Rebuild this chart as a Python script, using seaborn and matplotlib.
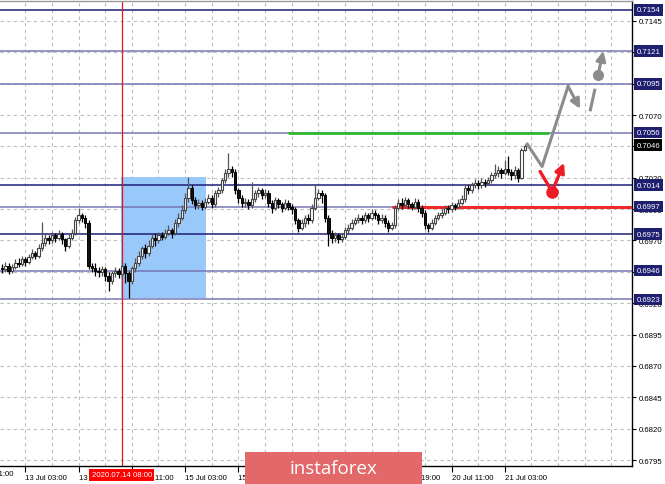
import matplotlib
matplotlib.use('Agg')
import matplotlib.pyplot as plt
import matplotlib.transforms as mtransforms
from matplotlib.patches import Rectangle, FancyBboxPatch
import numpy as np
import pandas as pd
import seaborn as sns

# H1 candles, prices in pips above 0.6900; first bar index 9 (bar 16 = 13 Jul 03:00)
first_bar = 9
first_open = 48
close_pips = [47, 50, 46, 49, 52, 51, 55, 53, 57, 60, 58, 64, 68, 72, 70, 74, 72, 75, 71, 66,
              72, 76, 86, 90, 88, 84, 50, 48, 46, 45, 47, 42, 38, 44, 46, 43, 50, 44, 38, 48,
              52, 58, 64, 60, 66, 72, 70, 74, 73, 76, 78, 76, 84, 88, 94, 104, 112, 102, 98, 100,
              97, 101, 104, 99, 108, 110, 118, 124, 127, 125, 110, 104, 100, 101, 98, 103, 108, 110, 106, 108,
              100, 96, 102, 99, 96, 100, 97, 95, 86, 80, 84, 88, 86, 96, 104, 108, 106, 88, 76, 72,
              74, 71, 73, 78, 80, 84, 86, 88, 86, 90, 88, 92, 90, 86, 88, 84, 80, 82, 96, 100,
              98, 102, 99, 97, 101, 96, 92, 82, 80, 84, 88, 90, 92, 96, 95, 98, 97, 100, 103, 112,
              110, 114, 116, 114, 117, 116, 118, 122, 124, 126, 124, 127, 125, 122, 126, 120, 142, 145]
high_pips = [51, 53, 52, 51, 55, 56, 58, 57, 59, 63, 62, 67, 85, 75, 74, 77, 76, 78, 77, 72,
             75, 79, 89, 96, 92, 90, 86, 52, 52, 49, 50, 49, 45, 46, 49, 48, 53, 52, 46, 50,
             56, 62, 66, 67, 70, 75, 76, 77, 77, 79, 82, 80, 87, 92, 98, 108, 121, 114, 105, 103,
             102, 104, 107, 106, 110, 113, 120, 127, 140, 129, 127, 112, 106, 104, 103, 117, 110, 113, 112, 111,
             110, 102, 105, 104, 101, 103, 102, 99, 97, 88, 87, 90, 91, 99, 115, 111, 110, 108, 90, 78,
             77, 76, 76, 81, 83, 87, 89, 91, 90, 93, 92, 95, 94, 92, 91, 90, 86, 85, 98, 103,
             104, 105, 104, 101, 104, 103, 98, 94, 84, 87, 90, 93, 95, 98, 98, 101, 100, 103, 106, 115,
             114, 117, 119, 118, 120, 119, 121, 125, 131, 129, 128, 134, 137, 127, 129, 128, 144, 147]
low_pips = [44, 45, 43, 44, 47, 49, 50, 50, 51, 55, 55, 56, 62, 66, 67, 68, 69, 70, 67, 62,
            64, 70, 74, 84, 85, 80, 47, 45, 42, 41, 42, 38, 30, 35, 41, 40, 41, 36, 24, 35,
            45, 50, 55, 56, 58, 64, 66, 68, 70, 71, 74, 72, 74, 81, 86, 92, 101, 99, 95, 95,
            94, 95, 99, 96, 97, 105, 108, 116, 121, 121, 107, 100, 97, 97, 95, 96, 101, 105, 103, 104,
            97, 92, 94, 96, 93, 94, 94, 91, 83, 77, 78, 81, 83, 84, 94, 102, 100, 85, 66, 68,
            69, 68, 69, 71, 76, 78, 82, 84, 83, 84, 85, 86, 87, 83, 84, 81, 77, 78, 80, 94,
            95, 96, 96, 94, 95, 93, 89, 79, 77, 78, 82, 86, 88, 90, 92, 93, 94, 95, 98, 101,
            107, 108, 112, 111, 112, 113, 114, 116, 120, 121, 120, 122, 122, 118, 119, 117, 119, 141]

# x axis labels (every 16 bars); the first one starts left of the visible range
first_label_bar = 0
first_label = '10 Jul 11:00'
tick_bars = [16, 32, 48, 64, 80, 96, 112, 128, 144, 160]
tick_labels = ['13 Jul 03:00', '13 Jul 19:00', '14 Jul 11:00', '15 Jul 03:00',
               '15 Jul 19:00', '16 Jul 11:00', '17 Jul 03:00', '17 Jul 19:00', '20 Jul 11:00',
               '21 Jul 03:00']
marker_bar = 45
marker_label = '2020.07.14 08:00'

# price grid and levels
grid_prices = [0.6795, 0.6820, 0.6845, 0.6870, 0.6895, 0.6920, 0.6945, 0.6970, 0.6995,
               0.7020, 0.7045, 0.7070, 0.7095, 0.7120, 0.7145]
level_prices = [0.7154, 0.7121, 0.7095, 0.7056, 0.7014, 0.6997, 0.6975, 0.6946, 0.6923]
level_dark = [True, False, False, False, True, False, True, False, False]
last_price = 0.7046

# zone and drawn lines
zone_bars = [44.7, 70.3]
zone_prices = [0.6924, 0.7021]
green_bars = [95.2, 173.0]
green_price = 0.7056
red_bars = [126.4, 199.0]
red_price = 0.6997

# forecast arrows
gray_path_bars = [166.7, 171.2, 179.0]
gray_path_prices = [0.7047, 0.7029, 0.7093]
gray_head_bar, gray_head_price = 182.6, 0.7075
gray_dash_bars = [185.6, 187.1]
gray_dash_prices = [0.7073, 0.7091]
gray_dot = (188.0, 0.7102)
gray_tip = (189.6, 0.7121)
red_path_bars = [170.6, 174.2]
red_path_prices = [0.7025, 0.7009]
red_tip = (177.8, 0.7032)

sns.set_theme(style='white')
plt.rcParams['font.family'] = ['Liberation Sans', 'DejaVu Sans']
FS = 5.6

df = pd.DataFrame({'close': close_pips, 'high': high_pips, 'low': low_pips})
df = 0.69 + df / 10000.0
df['bar'] = np.arange(first_bar, first_bar + len(df))
df['open'] = [0.69 + first_open / 10000.0] + list(df['close'][:-1])
up = df['close'] >= df['open']

fig = plt.figure(figsize=(6.65, 4.85), dpi=100)
ax = fig.add_axes([0, 18 / 485, 632 / 665, 465 / 485])

# grid
for p in grid_prices:
    ax.axhline(p, color='#bdbdbd', lw=0.8, ls=(0, (3, 3)), zorder=0)
for b in range(16, 199, 8):
    ax.axvline(b, color='#bdbdbd', lw=0.8, ls=(0, (3, 3)), zorder=0)

# blue zone
ax.add_patch(Rectangle((zone_bars[0], zone_prices[0]), zone_bars[1] - zone_bars[0],
                       zone_prices[1] - zone_prices[0], facecolor='#99c9fb', edgecolor='none', zorder=1))

# levels
for p, dark in zip(level_prices, level_dark):
    ax.axhline(p, color='#1e1e78' if dark else '#7878b4', lw=1.1, zorder=2)

ax.axvline(marker_bar, color='#e8141e', lw=0.9, zorder=2)

sns.lineplot(x=green_bars, y=[green_price, green_price], color='#2fb92f', lw=2, ax=ax, zorder=3)
sns.lineplot(x=red_bars, y=[red_price, red_price], color='#ef2a2a', lw=2.2, ax=ax, zorder=3)

# candles
ax.vlines(df['bar'], df['low'], df['high'], color=np.where(up, '#555555', '#000000'), lw=0.9, zorder=4)
body_lo = df[['open', 'close']].min(axis=1)
body_h = (df['close'] - df['open']).abs().clip(lower=0.00005)
ax.bar(df['bar'][up], body_h[up], bottom=body_lo[up], width=0.72, color='white',
       edgecolor='#444444', linewidth=0.8, zorder=5)
ax.bar(df['bar'][~up], body_h[~up], bottom=body_lo[~up], width=0.72, color='#111111',
       edgecolor='#000000', linewidth=0.7, zorder=5)

# forecast arrows
gray = '#8c8c8c'
sns.lineplot(x=gray_path_bars, y=gray_path_prices, sort=False, color=gray, lw=2.2, ax=ax, zorder=6)
ax.annotate('', xy=(gray_head_bar, gray_head_price), xytext=(gray_path_bars[-1], gray_path_prices[-1]),
            arrowprops=dict(arrowstyle='-|>', color=gray, lw=2.2, mutation_scale=14,
                            shrinkA=0, shrinkB=0), zorder=6)
ax.plot(gray_dash_bars, gray_dash_prices, color=gray, lw=2.2, zorder=6, solid_capstyle='butt')
ax.plot(*gray_dot, 'o', color=gray, ms=7, zorder=6)
ax.annotate('', xy=gray_tip, xytext=gray_dot,
            arrowprops=dict(arrowstyle='-|>', color=gray, lw=2.2, mutation_scale=14,
                            shrinkA=0, shrinkB=0), zorder=6)
red = '#ee1c25'
sns.lineplot(x=red_path_bars, y=red_path_prices, sort=False, color=red, lw=2.4, ax=ax, zorder=6)
ax.plot(red_path_bars[-1], red_path_prices[-1], 'o', color=red, ms=8, zorder=6)
ax.annotate('', xy=red_tip, xytext=(red_path_bars[-1], red_path_prices[-1]),
            arrowprops=dict(arrowstyle='-|>', color=red, lw=2.4, mutation_scale=14,
                            shrinkA=0, shrinkB=0), zorder=6)

# axes frame
ax.spines['left'].set_visible(False)
ax.spines['top'].set_color('#9a9a9a')
ax.spines['right'].set_color('#000000')
ax.spines['bottom'].set_color('#000000')
for s in ['top', 'right', 'bottom']:
    ax.spines[s].set_linewidth(1.0)

ax.yaxis.tick_right()
ax.set_yticks(grid_prices)
ax.set_yticklabels(['%.4f' % p for p in grid_prices])
ax.tick_params(axis='y', right=True, length=3, width=0.8, pad=2, labelsize=FS, colors='#000000')
ax.set_xticks(tick_bars)
ax.set_xticklabels(tick_labels, ha='left')
ax.tick_params(axis='x', bottom=True, length=4, width=0.8, pad=1.5, labelsize=FS, colors='#000000')

# limits last: drawing and set_*ticks may widen them
ax.set_xlim(8.4, 198.2)
ax.set_ylim(0.679022, 0.716094)

xtrans = mtransforms.blended_transform_factory(ax.transData, ax.transAxes)
ax.text(first_label_bar, -0.0085, first_label, transform=xtrans, fontsize=FS, color='#000000',
        va='top', ha='left', clip_on=False)

ytrans = mtransforms.blended_transform_factory(ax.transAxes, ax.transData)
for p in level_prices:
    ax.text(1.007, p, '%.4f' % p, transform=ytrans, fontsize=FS, color='white', va='center', ha='left',
            bbox=dict(boxstyle='square,pad=0.3', fc='#1f1f70', ec='none'), zorder=10, clip_on=False)
ax.text(1.007, last_price, '%.4f' % last_price, transform=ytrans, fontsize=FS, color='white',
        va='center', ha='left', bbox=dict(boxstyle='square,pad=0.3', fc='#000000', ec='none'),
        zorder=10, clip_on=False)

ax.text(marker_bar, -0.019, marker_label, transform=xtrans, fontsize=FS, color='white', va='center',
        ha='center', bbox=dict(boxstyle='square,pad=0.3', fc='#ff0000', ec='none'), zorder=10,
        clip_on=False)

# watermark
fig.patches.append(FancyBboxPatch((245 / 665, 0.0), 177 / 665, 32 / 485, boxstyle='square,pad=0',
                                  transform=fig.transFigure, fc='#e2686a', ec='none', zorder=20))
fig.text(333 / 665, 16 / 485, 'instaforex', color='white', fontsize=13.5, ha='center', va='center',
         family=['Open Sans', 'DejaVu Sans'], zorder=21)

fig.savefig('out.png', dpi=100)
